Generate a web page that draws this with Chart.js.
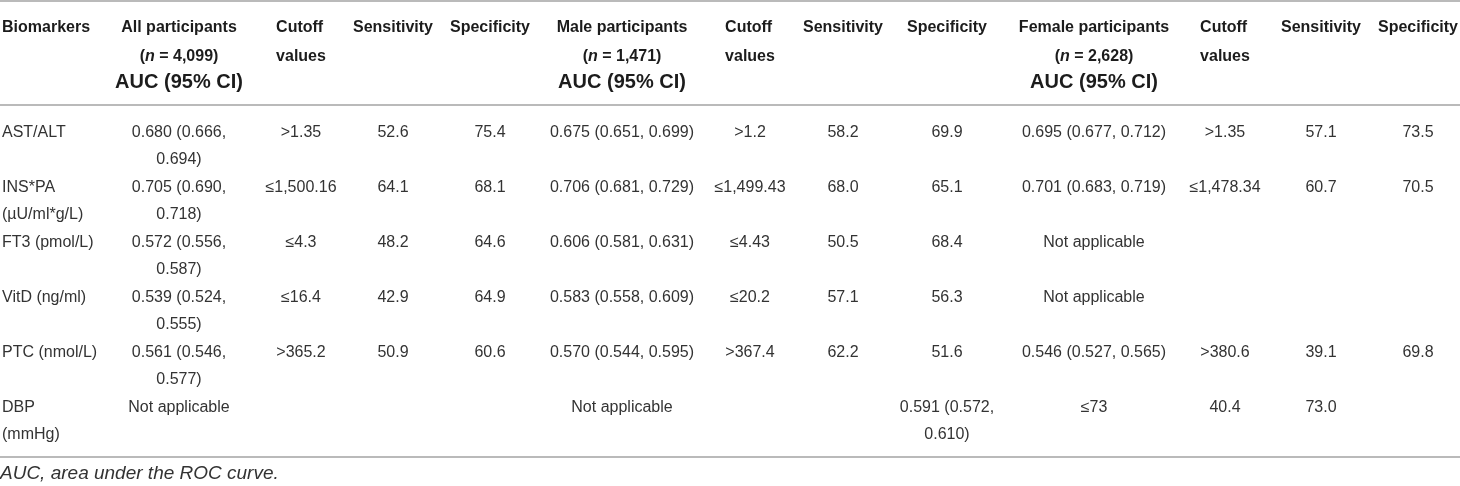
<!DOCTYPE html>
<html>
<head>
<meta charset="utf-8">
<script src="https://cdn.jsdelivr.net/npm/chart.js@4.4.1/dist/chart.umd.min.js"></script>
<style>
  html, body { margin: 0; padding: 0; background: #fff; }
  #wrap { width: 1460px; height: 486px; }
</style>
</head>
<body>
<div id="wrap"><canvas id="table" width="1460" height="486"></canvas></div>
<script>
// table content, one array per column (rows: AST/ALT, INS*PA, FT3, VitD, PTC, DBP)
const biomarkers = ["AST/ALT", "INS*PA\n(µU/ml*g/L)", "FT3 (pmol/L)", "VitD (ng/ml)", "PTC (nmol/L)", "DBP\n(mmHg)"];
const allAUC = ["0.680 (0.666,\n0.694)", "0.705 (0.690,\n0.718)", "0.572 (0.556,\n0.587)", "0.539 (0.524,\n0.555)", "0.561 (0.546,\n0.577)", "Not applicable"];
const allCutoff = [">1.35", "≤1,500.16", "≤4.3", "≤16.4", ">365.2", ""];
const allSens = ["52.6", "64.1", "48.2", "42.9", "50.9", ""];
const allSpec = ["75.4", "68.1", "64.6", "64.9", "60.6", ""];
const maleAUC = ["0.675 (0.651, 0.699)", "0.706 (0.681, 0.729)", "0.606 (0.581, 0.631)", "0.583 (0.558, 0.609)", "0.570 (0.544, 0.595)", "Not applicable"];
const maleCutoff = [">1.2", "≤1,499.43", "≤4.43", "≤20.2", ">367.4", ""];
const maleSens = ["58.2", "68.0", "50.5", "57.1", "62.2", ""];
const maleSpec = ["69.9", "65.1", "68.4", "56.3", "51.6", "0.591 (0.572,\n0.610)"];
const femaleAUC = ["0.695 (0.677, 0.712)", "0.701 (0.683, 0.719)", "Not applicable", "Not applicable", "0.546 (0.527, 0.565)", "≤73"];
const femaleCutoff = [">1.35", "≤1,478.34", "", "", ">380.6", "40.4"];
const femaleSens = ["57.1", "60.7", "", "", "39.1", "73.0"];
const femaleSpec = ["73.5", "70.5", "", "", "69.8", ""];

// header labels, _x_ marks italic
const headers = [
  ["Biomarkers"],
  ["All participants", "(_n_ = 4,099)", "AUC (95% CI)"],
  ["Cutoff", "values"],
  ["Sensitivity"],
  ["Specificity"],
  ["Male participants", "(_n_ = 1,471)", "AUC (95% CI)"],
  ["Cutoff", "values"],
  ["Sensitivity"],
  ["Specificity"],
  ["Female participants", "(_n_ = 2,628)", "AUC (95% CI)"],
  ["Cutoff", "values"],
  ["Sensitivity"],
  ["Specificity"]
];
const footnote = "AUC, area under the ROC curve.";

const columns = [biomarkers, allAUC, allCutoff, allSens, allSpec, maleAUC, maleCutoff, maleSens, maleSpec,
  femaleAUC, femaleCutoff, femaleSens, femaleSpec];

// layout (table units, 1 unit = 1 px at this size)
const colWidths = [102, 154, 90, 94, 100, 164, 92, 94, 114, 180, 82, 110, 84];
const tableHeight = 486;
const headerLineY = [28, 57, 82];
const rules = [1, 105, 457];
const bodyTop = 105, rowPitch = 55, firstLine = 28, lineStep = 27;
const footY = 474;

const FAMILY = '"Liberation Sans", Arial, Helvetica, sans-serif';
const HEAD_COLOR = '#1c1c1c';
const BODY_COLOR = '#333333';

const colLeft = [];
colWidths.reduce((acc, w, i) => { colLeft[i] = acc; return acc + w; }, 0);
const tableWidth = colWidths.reduce((a, b) => a + b, 0);
const colX = i => i === 0 ? colLeft[0] + 2 : colLeft[i] + colWidths[i] / 2;

const datasets = [];
headers.forEach((lines, i) => {
  datasets.push({
    kind: 'head',
    align: i === 0 ? 'left' : 'center',
    block: lines[0] === 'Cutoff',
    data: [{ x: colX(i), y: headerLineY[0], lines: lines }]
  });
});
columns.forEach((col, i) => {
  datasets.push({
    kind: 'body',
    align: i === 0 ? 'left' : 'center',
    data: col.map((t, r) => ({ x: colX(i), y: bodyTop + r * rowPitch + firstLine, lines: t ? t.split('\n') : [] }))
  });
});
datasets.push({ kind: 'foot', align: 'left', data: [{ x: 0, y: footY, lines: [footnote] }] });

function drawRich(ctx, text, x, y, align, size) {
  const parts = text.split('_');
  const fonts = parts.map((p, k) => (k % 2 ? 'italic bold ' : 'bold ') + size + 'px ' + FAMILY);
  let total = 0;
  const widths = parts.map((p, k) => { ctx.font = fonts[k]; const w = ctx.measureText(p).width; total += w; return w; });
  let cx = align === 'left' ? x : x - total / 2;
  ctx.textAlign = 'left';
  parts.forEach((p, k) => { ctx.font = fonts[k]; ctx.fillText(p, cx, y); cx += widths[k]; });
}

const tableText = {
  id: 'tableText',
  afterDatasetsDraw(chart) {
    const ctx = chart.ctx;
    const ys = chart.scales.y;
    const area = chart.chartArea;
    ctx.save();
    ctx.strokeStyle = '#a3a3a3';
    ctx.lineWidth = 1.6;
    rules.forEach(v => {
      const y = ys.getPixelForValue(v);
      ctx.beginPath();
      ctx.moveTo(area.left, y);
      ctx.lineTo(area.right, y);
      ctx.stroke();
    });
    ctx.textBaseline = 'middle';
    const step = ys.getPixelForValue(lineStep) - ys.getPixelForValue(0);
    chart.data.datasets.forEach((ds, i) => {
      const meta = chart.getDatasetMeta(i);
      meta.data.forEach((el, j) => {
        const lines = ds.data[j].lines;
        if (ds.kind === 'head') {
          ctx.fillStyle = HEAD_COLOR;
          if (ds.block) {
            ctx.font = 'bold 16px ' + FAMILY;
            const w = Math.max(...lines.map(l => ctx.measureText(l).width));
            lines.forEach((l, k) => drawRich(ctx, l, el.x - w / 2, ys.getPixelForValue(headerLineY[k]), 'left', 16));
          } else {
            lines.forEach((l, k) => drawRich(ctx, l, el.x, ys.getPixelForValue(headerLineY[k]), ds.align, k === 2 ? 20 : 16));
          }
        } else if (ds.kind === 'body') {
          ctx.fillStyle = BODY_COLOR;
          ctx.font = '16px ' + FAMILY;
          ctx.textAlign = ds.align;
          lines.forEach((l, k) => ctx.fillText(l, el.x, el.y + k * step));
        } else {
          ctx.fillStyle = BODY_COLOR;
          ctx.font = 'italic 19px ' + FAMILY;
          ctx.textAlign = 'left';
          ctx.fillText(lines[0], el.x, el.y);
        }
      });
    });
    ctx.restore();
  }
};

new Chart(document.getElementById('table'), {
  type: 'scatter',
  data: { datasets: datasets },
  options: {
    responsive: false,
    animation: false,
    events: [],
    layout: { padding: 0 },
    elements: { point: { radius: 0, hoverRadius: 0 } },
    plugins: { legend: { display: false }, tooltip: { enabled: false } },
    scales: {
      x: { type: 'linear', min: 0, max: tableWidth, display: false },
      y: { type: 'linear', min: 0, max: tableHeight, reverse: true, display: false }
    }
  },
  plugins: [tableText]
});
</script>
</body>
</html>
